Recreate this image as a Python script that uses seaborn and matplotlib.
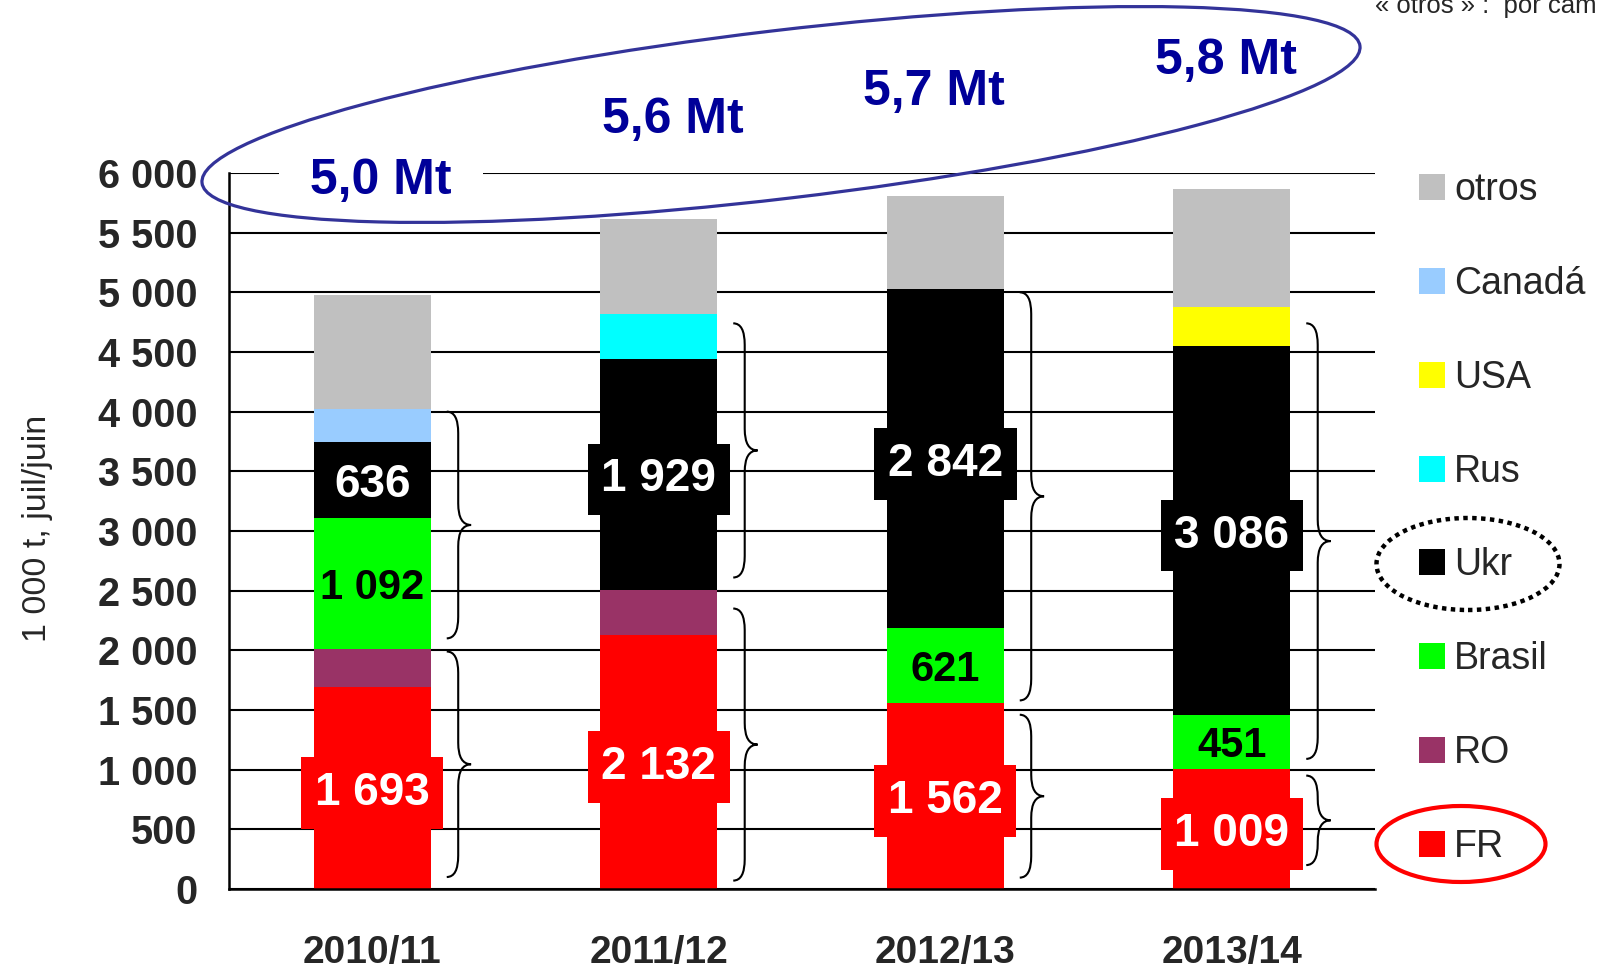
import numpy as np
import pandas as pd
import seaborn as sns
import matplotlib.pyplot as plt
import matplotlib.transforms as mtransforms
from matplotlib.patches import Ellipse, PathPatch
from matplotlib.path import Path

# data (1 000 t, juil/juin)
campaigns = ["2010/11", "2011/12", "2012/13", "2013/14"]
origins = ["FR", "RO", "Brasil", "Ukr", "Rus", "USA", "Canadá", "otros"]
fr = [1693, 2132, 1562, 1009]
ro = [321, 377, 0, 0]
brasil = [1092, 0, 621, 451]
ukr = [636, 1929, 2842, 3086]
rus = [0, 376, 0, 0]
usa = [0, 0, 0, 327]
canada = [278, 0, 0, 0]
otros = [956, 802, 779, 990]
totals_txt = ["5,0 Mt", "5,6 Mt", "5,7 Mt", "5,8 Mt"]

# braces (data ranges)
brace_lo = [(100, 1990), (70, 2350), (95, 1460), (200, 950)]
brace_hi = [(2100, 4000), (2610, 4740), (1580, 5000), (1090, 4740)]

colors = {"FR": "#FF0000", "RO": "#993366", "Brasil": "#00FF00", "Ukr": "#000000",
          "Rus": "#00FFFF", "USA": "#FFFF00", "Canadá": "#99CCFF", "otros": "#C0C0C0"}

df = pd.DataFrame({"FR": fr, "RO": ro, "Brasil": brasil, "Ukr": ukr, "Rus": rus,
                   "USA": usa, "Canadá": canada, "otros": otros}, index=campaigns)
tops = df.cumsum(axis=1)
bottoms = tops - df

sns.set_theme(style="white")
plt.rcParams["font.family"] = ["Liberation Sans", "DejaVu Sans"]

fig = plt.figure(figsize=(15.97, 9.69), dpi=100)
ax = fig.add_axes([0.1434, 0.0826, 0.7176, 0.7389])

# stacked bars: draw cumulative tops, highest first
for name in origins[::-1]:
    sns.barplot(x=campaigns, y=tops[name].values, color=colors[name], width=0.41,
                saturation=1, errorbar=None, label=name, ax=ax, linewidth=0)
h, l = ax.get_legend_handles_labels()
if ax.get_legend() is not None:
    ax.get_legend().remove()

ax.set_xlim(-0.5, 3.5)
ax.set_ylim(0, 6000)
ax.set_yticks(np.arange(0, 6001, 500))
ax.yaxis.set_major_formatter(lambda v, p: f"{int(v):,}".replace(",", " "))
ax.grid(axis="y", color="black", lw=1.5)
ax.set_axisbelow(True)
for s in ["top", "right"]:
    ax.spines[s].set_visible(False)
for s in ["left", "bottom"]:
    ax.spines[s].set_color("black")
    ax.spines[s].set_linewidth(1.8)
ax.tick_params(axis="y", length=0, pad=23, labelsize=28.5)
ax.tick_params(axis="x", length=0, pad=33, labelsize=28)
for t in ax.get_yticklabels() + ax.get_xticklabels():
    t.set_fontweight("bold")
ax.set_ylabel("1 000 t, juil/juin", fontsize=24.5)
ax.yaxis.set_label_coords(-0.154, 0.504)

# segment labels
white_box = {"FR": "#FF0000", "Ukr": "#000000"}
for i, c in enumerate(campaigns):
    for name in ["FR", "Brasil", "Ukr"]:
        v = df.loc[c, name]
        if v == 0:
            continue
        mid = bottoms.loc[c, name] + v / 2
        txt = f"{v:,}".replace(",", " ")
        if name == "Brasil":
            ax.text(i, mid, txt, ha="center", va="center_baseline", fontsize=30,
                    fontweight="bold", color="black")
        elif name == "Ukr" and v < 1000:
            ax.text(i, mid, txt, ha="center", va="center_baseline", fontsize=33,
                    fontweight="bold", color="white")
        else:
            ax.text(i, mid, txt, ha="center", va="center_baseline", fontsize=33,
                    fontweight="bold", color="white",
                    bbox=dict(boxstyle="square,pad=0.3", fc=white_box[name], ec="none"))


def brace(ax, x, y0, y1):
    x_end, x_stem, x_tip = x + 0.26, x + 0.30, x + 0.345
    r = 180
    ym = (y0 + y1) / 2
    verts = [(x_end, y1), (x_stem, y1), (x_stem, y1 - r), (x_stem, y1 - r),
             (x_stem, ym + r), (x_stem, ym), (x_tip, ym),
             (x_stem, ym), (x_stem, ym - r), (x_stem, ym - r),
             (x_stem, y0 + r), (x_stem, y0), (x_end, y0)]
    codes = [Path.MOVETO, Path.CURVE3, Path.CURVE3, Path.LINETO,
             Path.LINETO, Path.CURVE3, Path.CURVE3,
             Path.CURVE3, Path.CURVE3, Path.LINETO,
             Path.LINETO, Path.CURVE3, Path.CURVE3]
    ax.add_patch(PathPatch(Path(verts, codes), fc="none", ec="black", lw=1.5,
                           clip_on=False, zorder=5))


for i in range(len(campaigns)):
    brace(ax, i, *brace_lo[i])
    brace(ax, i, *brace_hi[i])

# totals
tot_x = [0.03, 0.05, -0.04, -0.02]
tot_y = [0.989, 1.074, 1.113, 1.156]
trans = mtransforms.blended_transform_factory(ax.transData, ax.transAxes)
for i, t in enumerate(totals_txt):
    kw = {}
    if i == 0:
        kw["bbox"] = dict(boxstyle="square,pad=0.35", fc="white", ec="none")
        t = f" {t} "
    ax.text(i + tot_x[i], tot_y[i], t, transform=trans, ha="center", va="center",
            fontsize=36, fontweight="bold", color="#000099", clip_on=False, zorder=6, **kw)

px = mtransforms.IdentityTransform()
fig.patches.append(Ellipse((781, 969 - 114.5), 1166, 168, angle=6.75, fc="none",
                           ec="#333399", lw=2.3, transform=px, zorder=10))
fig.patches.append(Ellipse((1468, 969 - 564), 183, 92, fc="none", ec="black", lw=3.2,
                           ls=(0, (1, 1)), transform=px, zorder=10))
fig.patches.append(Ellipse((1461, 969 - 844), 169, 76, fc="none", ec="#FF0000", lw=3,
                           transform=px, zorder=10))

fig.legend(h, l, loc="upper left", bbox_to_anchor=(0.8885, 0.822), frameon=False,
           fontsize=27, handlelength=0.69, handleheight=0.69, handletextpad=0.25,
           labelspacing=1.54, borderpad=0, borderaxespad=0)

fig.text(1375 / 1597, 1 - 13 / 969, "« otros » :  por campaña", fontsize=18.5,
         va="baseline", ha="left")

fig.savefig("out.png", dpi=100)
